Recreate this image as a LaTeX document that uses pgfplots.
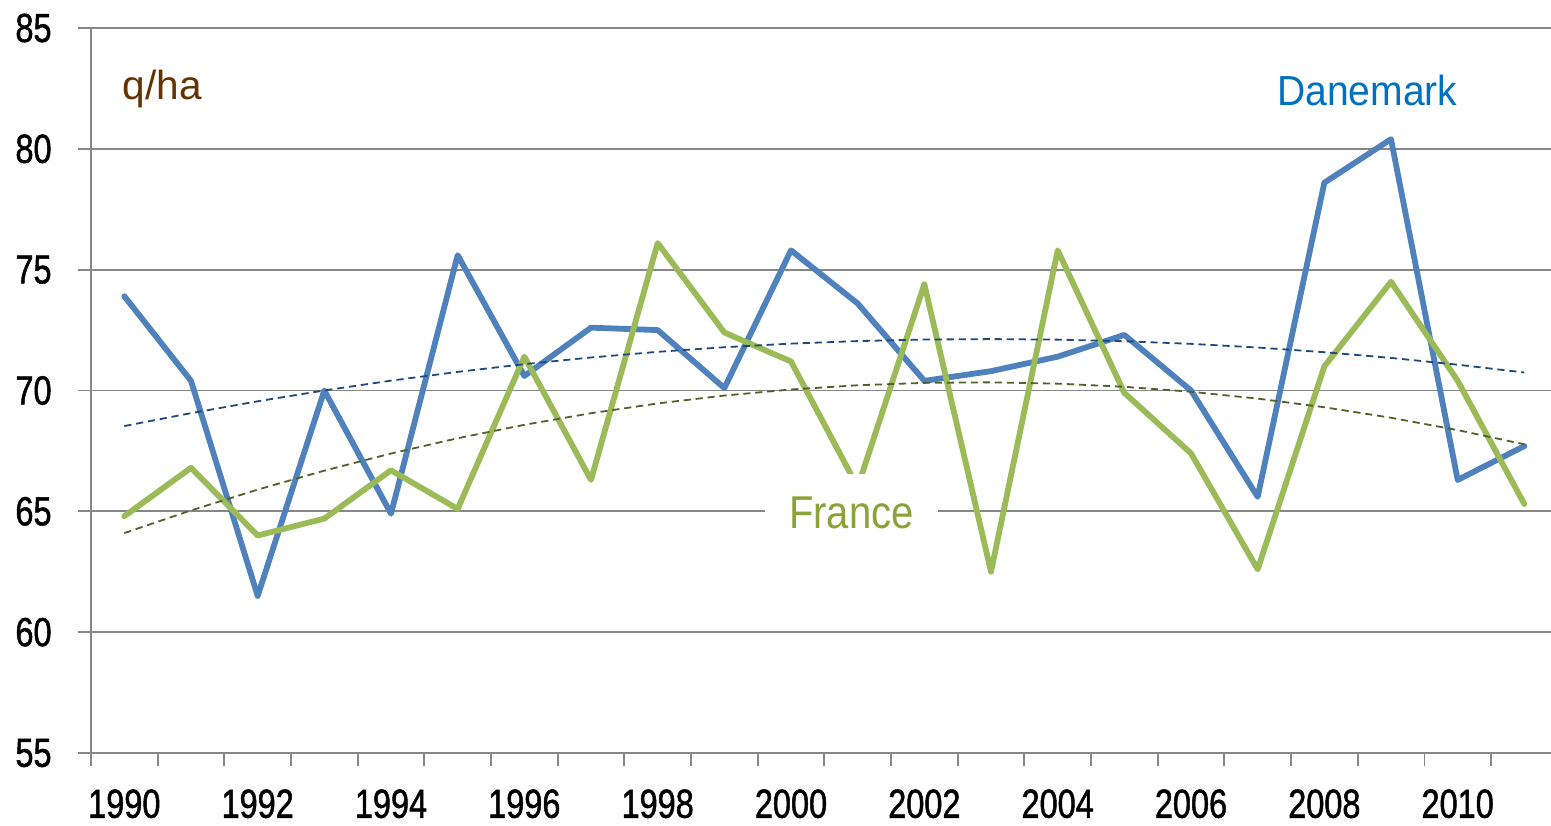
\documentclass[border=0pt]{standalone}
\usepackage{fontspec}
\setmainfont{Liberation Sans}
\newfontfamily\condfont{Liberation Sans}[FakeStretch=0.80, FakeBold=1.2]
\newfontfamily\danfont{Liberation Sans}[FakeStretch=0.93]
\newfontfamily\frfont{Liberation Sans}[FakeStretch=0.87]
\usepackage{pgfplots}
\pgfplotsset{compat=1.18}
\definecolor{blueline}{RGB}{79,129,189}
\definecolor{greenline}{RGB}{155,187,89}
\definecolor{bluetrend}{RGB}{31,73,125}
\definecolor{greentrend}{RGB}{79,98,40}
\definecolor{gridgray}{RGB}{135,135,135}
\definecolor{danblue}{RGB}{0,112,192}
\definecolor{frgreen}{RGB}{138,162,54}
\definecolor{qhabrown}{RGB}{102,51,0}
\begin{document}
\begin{tikzpicture}
\begin{axis}[
  scale only axis, width=730pt, height=362.5pt,
  xmin=-0.5, xmax=21.4, ymin=55, ymax=85,
  axis x line*=bottom, axis y line*=left,
  axis line style={-, draw=gridgray, line width=0.85pt},
  ytick={55,60,65,70,75,80,85},
  ymajorgrids, grid style={draw=gridgray, line width=0.85pt},
  tick align=outside, major tick length=6.5pt,
  tick style={draw=gridgray, line width=0.85pt},
  /pgf/number format/assume math mode=true,
  tick label style={font=\condfont\fontsize{20.3}{24}\selectfont, text=black},
  yticklabel style={anchor=east, inner sep=0pt, xshift=-13pt},
  xtick={-0.5,0.5,1.5,2.5,3.5,4.5,5.5,6.5,7.5,8.5,9.5,10.5,11.5,12.5,13.5,14.5,15.5,16.5,17.5,18.5,19.5,20.5},
  xticklabels={},
  extra x ticks={0,2,4,6,8,10,12,14,16,18,20},
  extra x tick labels={1990,1992,1994,1996,1998,2000,2002,2004,2006,2008,2010},
  extra x tick style={major tick length=0pt, xticklabel style={anchor=north, inner sep=0pt, yshift=-18pt}},
  clip=false,
]
\coordinate (O) at (axis cs:-0.5,55);
% Danemark
\addplot[blueline, line width=2.9pt, line join=round, line cap=round] coordinates {
(0,73.9) (1,70.4) (2,61.5) (3,70.0) (4,64.9) (5,75.6) (6,70.6) (7,72.6) (8,72.5) (9,70.1) (10,75.8)
(11,73.6) (12,70.4) (13,70.8) (14,71.4) (15,72.3) (16,70.0) (17,65.6) (18,78.6) (19,80.4) (20,66.3) (21,67.7)};
% France
\addplot[greenline, line width=2.9pt, line join=round, line cap=round] coordinates {
(0,64.8) (1,66.8) (2,64.0) (3,64.7) (4,66.7) (5,65.1) (6,71.4) (7,66.3) (8,76.1) (9,72.4) (10,71.2)
(11,66.0) (12,74.4) (13,62.5) (14,75.8) (15,69.9) (16,67.4) (17,62.6) (18,71.0) (19,74.5) (20,70.4) (21,65.3)};
% trend Danemark
\addplot[bluetrend, line width=0.9pt, dash pattern=on 3.6pt off 2.4pt] coordinates {
(0,68.530) (1,69.063) (2,69.554) (3,70.002) (4,70.408) (5,70.770) (6,71.090) (7,71.366) (8,71.600) (9,71.791) (10,71.940)
(11,72.045) (12,72.108) (13,72.128) (14,72.105) (15,72.039) (16,71.930) (17,71.779) (18,71.585) (19,71.348) (20,71.068) (21,70.745)};
% trend France
\addplot[greentrend, line width=0.9pt, dash pattern=on 3.6pt off 2.4pt] coordinates {
(0,64.101) (1,65.038) (2,65.899) (3,66.684) (4,67.392) (5,68.024) (6,68.580) (7,69.060) (8,69.464) (9,69.791) (10,70.042)
(11,70.217) (12,70.316) (13,70.338) (14,70.284) (15,70.154) (16,69.948) (17,69.665) (18,69.307) (19,68.872) (20,68.361) (21,67.773)};
\node[anchor=base west, inner sep=0pt, text=qhabrown, font=\fontsize{20.3}{24}\selectfont] at (axis cs:-0.03,82.06) {q/ha};
\node[anchor=base, inner sep=0pt, text=danblue, font=\danfont\fontsize{21}{25}\selectfont] at (axis cs:18.645,81.81) {Danemark};
\node[anchor=base, fill=white, inner xsep=12pt, inner ysep=11pt, text=frgreen, font=\frfont\fontsize{23}{27}\selectfont] at (axis cs:10.905,64.31) {France};
\end{axis}
\pgfresetboundingbox
\path[use as bounding box] ([shift={(-45.5pt,-36pt)}]O) rectangle ([shift={(730pt,376.5pt)}]O);
\end{tikzpicture}
\end{document}
